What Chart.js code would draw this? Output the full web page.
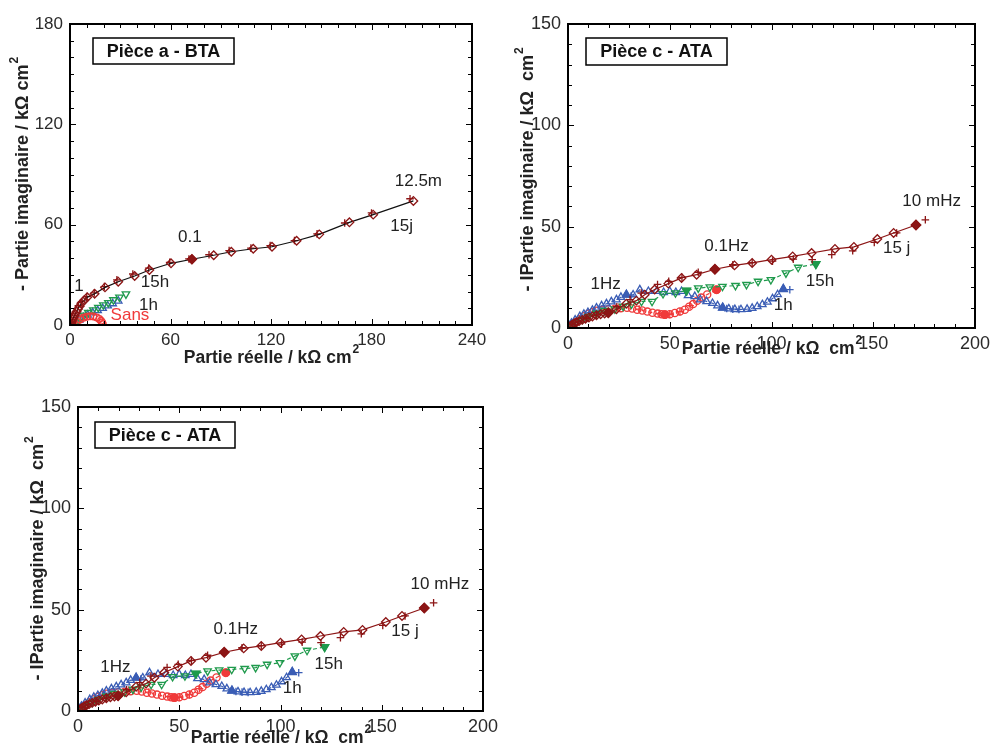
<!DOCTYPE html>
<html lang="fr">
<head>
<meta charset="UTF-8">
<title>Diagrammes de Nyquist</title>
<script src="https://cdn.jsdelivr.net/npm/chart.js"></script>
<style>
  body { margin: 0; background: #fff; width: 991px; height: 745px; position: relative; overflow: hidden; }
  canvas { position: absolute; }
</style>
</head>
<body>
<canvas id="chartA" width="495" height="375" style="left:0;top:0"></canvas>
<canvas id="chartB" width="496" height="375" style="left:495px;top:0"></canvas>
<canvas id="chartC" width="510" height="365" style="left:0;top:380px"></canvas>

<script>
// ---- Pièce a - BTA ----
const a15j = [[0.3,0.2],[0.6,1],[1,2],[1.5,3.2],[2,4.3],[2.6,5.5],[3.2,6.7],[3.9,8],[4.8,9.6],[5.8,11.2],[6.8,13],[8.5,14.8],
  [10.3,16.6],[14.7,18.7],[20.9,22.5],[28.8,25.9],[38.6,29.3],[47.4,32.9],[60.3,36.9],[72.8,39.3],[85.8,41.7],[96.3,43.8],
  [109.4,45.6],[120.6,46.8],[135.3,50.4],[148.8,54.2],[166.8,61.4],[181,66],[205,74.2]];
const a15jFit = [[5,11.5],[7,14],[10,17],[14.5,19.2],[20.5,23],[28,27],[37.5,30.5],[47,34],[59.5,37.5],[71,39.5],[83,42],
  [95,44.5],[108,46],[119.5,47.5],[134,50.5],[147.5,54.5],[164,61],[180,67],[203,75.5]];
const a15jFreq = [[72.8,39.3]];
const a15h = [[0.5,0.1],[1.2,0.2],[2.4,0.2],[4,1.8],[6,3.8],[8.4,5.8],[10.9,7.4],[13.9,9],[16.9,10.4],[19.9,12],[22.9,13.3],
  [25.9,15],[29.5,16.6],[33.4,18.5]];
const a1h = [[0.5,0.1],[1.5,0.5],[3.5,1.5],[5.5,3],[8,4.5],[10.5,6],[13.5,7.4],[16.5,8.7],[19.5,10],[22.5,11.5],[25.5,12.8],[28.8,14.4]];
const aSans = [[1,0.2],[2,0.8],[4,2],[6,3.3],[8,4.3],[10,4.9],[12,5.2],[14,5.1],[16,4.5],[17.5,3.6],[18.5,2.5],[19.2,1.5],[19.6,0.7]];

// ---- Pièce c - ATA (même jeu de données dans les deux graphes) ----
const c15j = [[0.5,0.4],[1.2,1],[2,1.6],[3,2.2],[4.2,2.8],[5.5,3.4],[7,4],[8.6,4.6],[10.3,5.2],[12,5.7],[14,6.3],[16,6.8],
  [18,7.2],[19.8,7.5],[23.8,9.2],[28.7,12],[33.6,13.5],[37.7,16.4],[42.6,19],[49.3,21.9],[55.8,24.7],[63.2,26.3],[72.2,29],
  [81.8,30.9],[90.5,32.1],[100,33.7],[110.4,35.3],[119.7,37],[131.2,39],[140.5,40],[152,43.9],[160,46.9],[171,50.8]];
const c15jFit = [[2,1.8],[5,3.2],[9,4.8],[14,6.4],[24,10.5],[30.5,14],[36,17.2],[44,21.5],[49.5,23],[56,25],[64,27.5],
  [81,31.2],[90.5,32.3],[100.5,33],[110.7,34],[120,33.7],[129.6,36.2],[139.9,38.1],[150.5,42.2],[161.5,46.9],[175.6,53.4]];
const c15jFreq = [[19.8,7.5],[72.2,29],[171,50.8]];
const c15h = [[0.7,0.5],[2,1.4],[4,2.6],[7,4.2],[10,5.6],[14,7.2],[18,8.6],[23,9.4],[27.1,10.7],[31.2,11.8],[36.1,13.1],
  [41.3,13.1],[46.7,16.9],[52.8,17.3],[58.2,18.5],[64,19.7],[69.7,20.2],[75.9,20.5],[82.3,20.9],[87.7,21.4],[93.4,23],
  [99.7,23.8],[107.1,27.1],[113.1,29.9],[121.8,31.6]];
const c15hFreq = [[58.2,18.5],[121.8,31.6]];
const c1h = [[0.8,1],[1.7,2.4],[3.5,4],[5.8,5.7],[7.8,6.8],[9.8,7.7],[12,8.8],[14,9.9],[16.5,11],[18.9,12],[21.3,13],
  [23.8,14],[26,15.2],[28.7,16.4],[32,16.4],[35.3,18.9],[39.5,18.1],[43.5,18.1],[47,17.6],[50,18.1],[53,17.6],[55.8,18.1],
  [59,16],[62.3,15.6],[65,14],[68.1,13.1],[71,12.2],[73.5,11],[76,10],[79,9.5],[82,9.2],[85,9.1],[88,9.3],[90.5,9.8],
  [93,10.6],[95.5,11.6],[98,12.8],[100.5,14.5],[103,16.5],[105.8,19.2]];
const c1hFreq = [[28.7,16.4],[76,10],[105.8,19.2]];
const c1hFit = [[31,15.8],[78,9.6],[81,9.3],[84,9.2],[109,18.9]];
const cSans = [[0.8,0.6],[2,1.5],[4,3],[6,4.5],[8,5.8],[10,7],[12,7.8],[14,8.5],[17,9],[20,9.3],[23,9.5],[26,9.8],[29,10],
  [31.5,9.6],[34,9],[36.5,8.6],[39,8.1],[41.5,7.5],[44,7.1],[46,6.8],[47.6,6.6],[50,6.8],[52.5,7.4],[55,8.2],[57.4,9],
  [59.5,10.5],[61.5,11.8],[63.5,13.5],[65.5,15],[68.4,16.5],[73,18.9]];
const cSansFreq = [[47.6,6.6],[73,18.9]];
const cSansFit = [[25,10.2],[35,9.3],[45,7.1],[50,6.7],[55,8.1],[60,11]];

const DARKRED = '#8c1515', GREEN = '#1f9a4c', BLUE = '#3a5db5', RED = '#f03a3a';
const FONT = '"Liberation Sans", Arial, sans-serif';

function pts(arr) { return arr.map(([x, y]) => ({ x, y })); }

function series(arr, o) {
  return Object.assign({
    data: pts(arr), showLine: false, borderWidth: 1.2, pointRadius: 3.5, pointHoverRadius: 3.5,
    pointBorderWidth: 1.3, pointBackgroundColor: 'rgba(255,255,255,0)', backgroundColor: 'rgba(255,255,255,0)'
  }, o);
}

// frame, inward ticks, titles, labels and box
const decor = {
  id: 'decor',
  afterDraw(chart, args, o) {
    const { ctx, chartArea: a, scales: { x, y } } = chart;
    ctx.save();
    ctx.strokeStyle = '#000';
    ctx.lineWidth = 1;
    for (let v = x.min; v <= x.max + 1e-9; v += o.minor) {
      const px = Math.round(x.getPixelForValue(v)) + 0.5;
      const len = Math.abs(v % o.xMajor) < 1e-9 ? 6 : 4;
      ctx.beginPath();
      ctx.moveTo(px, a.bottom); ctx.lineTo(px, a.bottom - len);
      ctx.moveTo(px, a.top); ctx.lineTo(px, a.top + len);
      ctx.stroke();
    }
    for (let v = y.min; v <= y.max + 1e-9; v += o.minor) {
      const py = Math.round(y.getPixelForValue(v)) + 0.5;
      const len = Math.abs(v % o.yMajor) < 1e-9 ? 6 : 4;
      ctx.beginPath();
      ctx.moveTo(a.left, py); ctx.lineTo(a.left + len, py);
      ctx.moveTo(a.right, py); ctx.lineTo(a.right - len, py);
      ctx.stroke();
    }
    ctx.lineWidth = 2;
    ctx.strokeRect(a.left, a.top, a.right - a.left, a.bottom - a.top);

    // box label
    ctx.lineWidth = 1.5;
    const bx = a.left + o.box.dx, by = a.top + o.box.dy;
    ctx.fillStyle = '#fff';
    ctx.fillRect(bx, by, o.box.w, o.box.h);
    ctx.strokeRect(bx, by, o.box.w, o.box.h);
    ctx.fillStyle = '#111';
    ctx.font = 'bold 18px ' + FONT;
    ctx.textAlign = 'center';
    ctx.textBaseline = 'middle';
    ctx.fillText(o.box.text, bx + o.box.w / 2, by + o.box.h / 2 + 1);

    // annotations
    ctx.font = '17px ' + FONT;
    o.notes.forEach(([t, vx, vy, c]) => {
      ctx.fillStyle = c || '#222';
      ctx.fillText(t, x.getPixelForValue(vx), y.getPixelForValue(vy));
    });

    // axis titles
    const title = (text, cx, cy, rot, size) => {
      ctx.save();
      ctx.translate(cx, cy);
      if (rot) ctx.rotate(-Math.PI / 2);
      ctx.fillStyle = '#222';
      ctx.textAlign = 'left';
      ctx.textBaseline = 'middle';
      const big = 'bold ' + size + 'px ' + FONT, small = 'bold ' + Math.round(size * 0.68) + 'px ' + FONT;
      ctx.font = big;
      const w1 = ctx.measureText(text).width;
      ctx.font = small;
      const w2 = ctx.measureText('2').width;
      const x0 = -(w1 + w2) / 2;
      ctx.font = big;
      ctx.fillText(text, x0, 0);
      ctx.font = small;
      ctx.fillText('2', x0 + w1 + 1, -size * 0.45);
      ctx.restore();
    };
    title(o.xTitle, (a.left + a.right) / 2, a.bottom + o.xTitleDy, false, 17.5);
    title(o.yTitle, a.left - o.yTitleDx, (a.top + a.bottom) / 2 + o.yTitleDy, true, 18);
    ctx.restore();
  }
};

function axis(max, step, size, pad) {
  return {
    type: 'linear', min: 0, max: max,
    grid: { display: false, drawTicks: false }, border: { display: false },
    ticks: { stepSize: step, color: '#2a2a2a', padding: pad, autoSkip: false, maxRotation: 0,
      font: { family: FONT, size: size } }
  };
}

function noPad(s) { s.paddingLeft = s.paddingRight = s.paddingTop = s.paddingBottom = 0; }

function makeChart(id, datasets, cfg) {
  const p = cfg.padding;
  const xs = axis(cfg.xMax, cfg.xStep, cfg.fontSize, 5);
  xs.afterFit = s => { s.height = p.bottom - 2; noPad(s); };
  const ys = axis(cfg.yMax, cfg.yStep, cfg.fontSize, 7);
  ys.afterFit = s => { s.width = p.left - 2; noPad(s); };
  return new Chart(document.getElementById(id), {
    type: 'scatter',
    data: { datasets: datasets },
    options: {
      responsive: false, animation: false,
      layout: { padding: { left: 2, bottom: 2, top: p.top, right: p.right } },
      scales: { x: xs, y: ys },
      plugins: { legend: { display: false }, tooltip: { enabled: false }, decor: cfg.decor }
    },
    plugins: [decor]
  });
}

// ---- Chart A ----
makeChart('chartA', [
  series(a15jFreq, { pointStyle: 'rectRot', pointRadius: 4.5, pointBorderColor: DARKRED, pointBackgroundColor: DARKRED }),
  series(a15j, { showLine: true, borderColor: '#111', pointStyle: 'rectRot', pointRadius: 4.3, pointBorderColor: DARKRED }),
  series(a15jFit, { pointStyle: 'cross', pointRadius: 3.8, pointBorderColor: DARKRED }),
  series(aSans, { pointStyle: 'circle', pointRadius: 3.3, pointBorderColor: RED }),
  series(a15h, { pointStyle: 'triangle', pointRotation: 180, pointRadius: 4.3, pointBorderColor: GREEN }),
  series(a1h, { pointStyle: 'triangle', pointRadius: 4.3, pointBorderColor: BLUE })
], {
  xMax: 240, xStep: 60, yMax: 180, yStep: 60, fontSize: 17,
  padding: { left: 70, top: 24, right: 23, bottom: 50 },
  decor: {
    minor: 10, xMajor: 60, yMajor: 60,
    box: { text: 'Pièce a - BTA', dx: 23, dy: 14, w: 141, h: 26 },
    notes: [['1', 5.4, 22.9], ['0.1', 71.6, 52.6], ['15h', 50.7, 25.3], ['1h', 46.8, 12], ['Sans', 35.8, 6, RED],
      ['12.5m', 208, 85.7], ['15j', 198, 58.8]],
    xTitle: 'Partie réelle / kΩ cm', xTitleDy: 33,
    yTitle: '- Partie imaginaire / kΩ cm', yTitleDx: 47, yTitleDy: 0
  }
});

// ---- Charts B & C ----
function ataDatasets() {
  return [
    series(c15jFreq, { pointStyle: 'rectRot', pointRadius: 4.8, pointBorderColor: DARKRED, pointBackgroundColor: DARKRED }),
    series(c15j, { showLine: true, borderColor: DARKRED, pointStyle: 'rectRot', pointRadius: 4.3, pointBorderColor: DARKRED }),
    series(c15jFit, { pointStyle: 'cross', pointRadius: 3.8, pointBorderColor: DARKRED }),
    series(c15hFreq, { pointStyle: 'triangle', pointRotation: 180, pointRadius: 4.8, pointBorderColor: GREEN, pointBackgroundColor: GREEN }),
    series(c15h, { showLine: true, borderColor: GREEN, borderDash: [4, 3], pointStyle: 'triangle', pointRotation: 180, pointRadius: 4.3, pointBorderColor: GREEN }),
    series(c1hFreq, { pointStyle: 'triangle', pointRadius: 4.8, pointBorderColor: BLUE, pointBackgroundColor: BLUE }),
    series(c1h, { showLine: true, borderColor: BLUE, borderDash: [4, 3], pointStyle: 'triangle', pointRadius: 4.3, pointBorderColor: BLUE }),
    series(c1hFit, { pointStyle: 'cross', pointRadius: 3.8, pointBorderColor: BLUE }),
    series(cSansFreq, { pointStyle: 'circle', pointRadius: 3.8, pointBorderColor: RED, pointBackgroundColor: RED }),
    series(cSans, { showLine: true, borderColor: RED, borderDash: [4, 3], pointStyle: 'circle', pointRadius: 3.6, pointBorderColor: RED }),
    series(cSansFit, { pointStyle: 'cross', pointRadius: 3.8, pointBorderColor: RED })
  ];
}
const ataNotes = [['1Hz', 18.5, 21.4], ['0.1Hz', 77.9, 40.3], ['10 mHz', 178.7, 62.5], ['15 j', 161.5, 39.5],
  ['15h', 123.8, 23], ['1h', 105.8, 11]];

makeChart('chartB', ataDatasets(), {
  xMax: 200, xStep: 50, yMax: 150, yStep: 50, fontSize: 18,
  padding: { left: 73, top: 24, right: 16, bottom: 47 },
  decor: {
    minor: 10, xMajor: 50, yMajor: 50,
    box: { text: 'Pièce c - ATA', dx: 18, dy: 14, w: 141, h: 27 },
    notes: ataNotes,
    xTitle: 'Partie réelle / kΩ  cm', xTitleDy: 21,
    yTitle: '- IPartie imaginaire / kΩ  cm', yTitleDx: 40, yTitleDy: -6
  }
});

makeChart('chartC', ataDatasets(), {
  xMax: 200, xStep: 50, yMax: 150, yStep: 50, fontSize: 18,
  padding: { left: 78, top: 27, right: 27, bottom: 34 },
  decor: {
    minor: 10, xMajor: 50, yMajor: 50,
    box: { text: 'Pièce c - ATA', dx: 17, dy: 15, w: 140, h: 26 },
    notes: ataNotes,
    xTitle: 'Partie réelle / kΩ  cm', xTitleDy: 27,
    yTitle: '- IPartie imaginaire / kΩ  cm', yTitleDx: 40, yTitleDy: 0
  }
});
</script>
</body>
</html>
